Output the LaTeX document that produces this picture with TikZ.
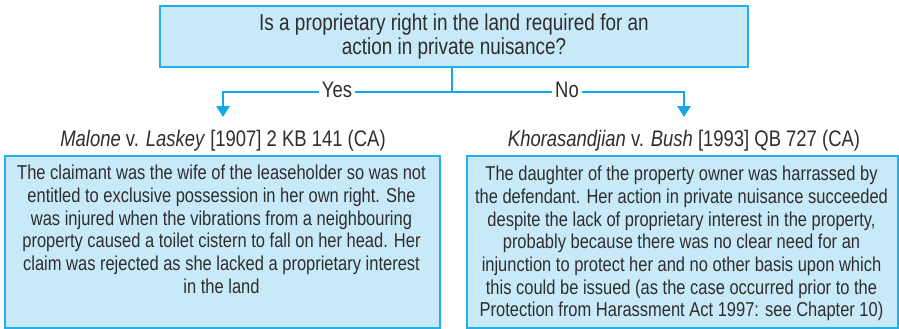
\documentclass[tikz,border=0pt]{standalone}
\usepackage{fontspec}
\setmainfont{Liberation Sans}[FakeStretch=0.82]
\usetikzlibrary{arrows.meta}
\definecolor{boxfill}{HTML}{C8E9F8}
\definecolor{boxline}{HTML}{22B0EC}
\definecolor{connc}{HTML}{13A8E9}
\definecolor{ink}{HTML}{2E2E2E}
\begin{document}
\begin{tikzpicture}[x=1pt,y=-1pt,
  box/.style={draw=boxline,fill=boxfill,line width=1.5pt,inner sep=0pt},
  conn/.style={draw=connc,line width=2.6pt},
  arr/.style={conn,-{Triangle[width=13pt,length=11pt]}},
  lbl/.style={fill=white,text=ink,inner xsep=3pt,inner ysep=1pt,anchor=base,font=\fontsize{22.5}{24}\selectfont},
  head/.style={text=ink,inner sep=0pt,anchor=base,font=\fontsize{22.5}{24}\selectfont},
  body/.style={text=ink,inner sep=0pt,anchor=north,align=center,font=\fontsize{20.1}{22.7}\selectfont},
]
\useasboundingbox (0,0) rectangle (899,329);
% question box
\node[box,minimum width=588pt,minimum height=61pt,align=center,text=ink,
      font=\fontsize{23.1}{24}\selectfont] (q) at (454,36.5)
  {Is a proprietary right in the land required for an\\action in private nuisance?};
% case boxes
\node[box,anchor=north west,minimum width=435pt,minimum height=172pt] (lb) at (4,155) {};
\node[box,anchor=north west,minimum width=431pt,minimum height=172pt] (rb) at (466,155) {};
\node[body] (lt) at (221.5,165) {The claimant was the wife of the leaseholder so was not\\
entitled to exclusive possession in her own right. She\\
was injured when the vibrations from a neighbouring\\
property caused a toilet cistern to fall on her head. Her\\
claim was rejected as she lacked a proprietary interest\\
in the land};
\node[body] (rt) at (681.5,166) {The daughter of the property owner was harrassed by\\
the defendant. Her action in private nuisance succeeded\\
despite the lack of proprietary interest in the property,\\
probably because there was no clear need for an\\
injunction to protect her and no other basis upon which\\
this could be issued (as the case occurred prior to the\\
Protection from Harassment Act 1997: see Chapter 10)};
% headings
\node[head] (lh) at (223,146) {\textit{Malone} v. \textit{Laskey} [1907] 2 KB 141 (CA)};
\node[head] (rh) at (684,146) {\textit{Khorasandjian} v. \textit{Bush} [1993] QB 727 (CA)};
% connectors
\coordinate (split) at (452,92);
\coordinate (aL) at (223,117);
\coordinate (aR) at (684,117);
\draw[conn] (split |- q.south) -- (split);
\draw[arr] (split) -| (aL);
\draw[arr] (split) -| (aR);
\node[lbl] (yes) at (337,97) {Yes};
\node[lbl] (no) at (567,97) {No};
\end{tikzpicture}
\end{document}
